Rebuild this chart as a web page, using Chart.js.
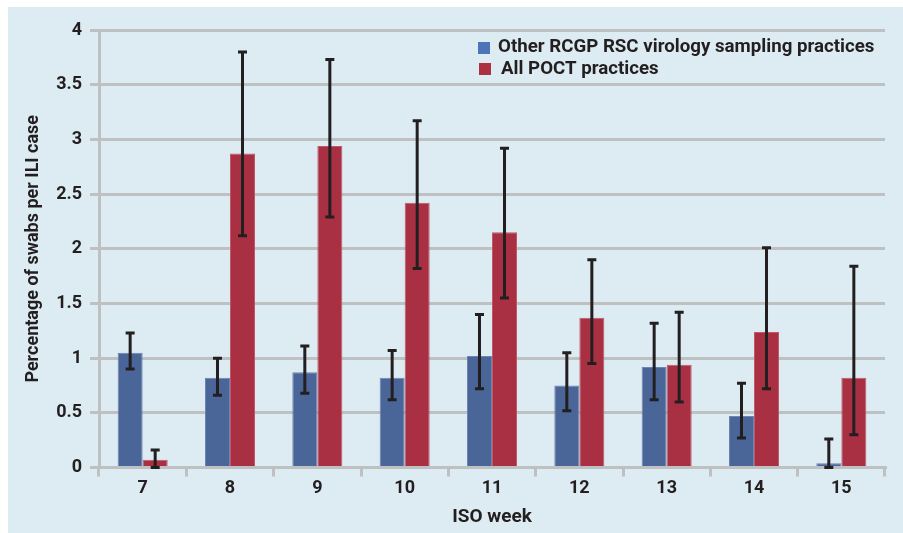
<!DOCTYPE html>
<html>
<head>
<meta charset="utf-8">
<script src="https://cdn.jsdelivr.net/npm/chart.js@4.4.1/dist/chart.umd.min.js"></script>
<style>
  html, body { margin: 0; padding: 0; background: #ffffff; }
  #wrap { width: 903px; height: 533px; position: relative; }
</style>
</head>
<body>
<div id="wrap"><canvas id="c" width="903" height="533"></canvas></div>
<script>
// ---- data ----
const weeks = ['7', '8', '9', '10', '11', '12', '13', '14', '15'];
const rcgpValues = [1.05, 0.82, 0.87, 0.82, 1.02, 0.75, 0.92, 0.47, 0.04];
const rcgpLow    = [0.90, 0.66, 0.68, 0.62, 0.72, 0.52, 0.62, 0.27, 0.00];
const rcgpHigh   = [1.23, 1.00, 1.11, 1.07, 1.40, 1.05, 1.32, 0.77, 0.26];
const poctValues = [0.07, 2.87, 2.94, 2.42, 2.15, 1.37, 0.94, 1.24, 0.82];
const poctLow    = [0.00, 2.12, 2.29, 1.82, 1.55, 0.95, 0.60, 0.72, 0.30];
const poctHigh   = [0.16, 3.80, 3.73, 3.17, 2.92, 1.90, 1.42, 2.01, 1.84];
const seriesNames = ['Other RCGP RSC virology sampling practices', 'All POCT practices'];
const yTicks = [0, 0.5, 1, 1.5, 2, 2.5, 3, 3.5, 4];
const xTitle = 'ISO week';
const yTitle = 'Percentage of swabs per ILI case';

// ---- styles ----
const FONT = 'Roboto, "Liberation Sans", sans-serif';
const TEXT = '#231f20';
const GRID = '#bfc0c2';
const PANEL = '#ddebf2';
const BLUE = '#4a6598';
const RED = '#a93043';
const LEGEND_BLUE = '#4d73b9';
const LEGEND_RED = '#ad3042';

const errorBars = [
  { low: rcgpLow, high: rcgpHigh },
  { low: poctLow, high: poctHigh }
];

const panelPlugin = {
  id: 'panel',
  beforeDraw(chart) {
    const ctx = chart.ctx;
    ctx.save();
    ctx.fillStyle = PANEL;
    ctx.fillRect(8, 7, chart.width - 8, chart.height - 7);
    ctx.restore();
  }
};

const errorPlugin = {
  id: 'errorBars',
  afterDatasetsDraw(chart) {
    const ctx = chart.ctx;
    const y = chart.scales.y;
    ctx.save();
    ctx.strokeStyle = TEXT;
    ctx.lineWidth = 3;
    ctx.lineCap = 'butt';
    chart.data.datasets.forEach((ds, di) => {
      const meta = chart.getDatasetMeta(di);
      meta.data.forEach((bar, i) => {
        const lo = y.getPixelForValue(errorBars[di].low[i]);
        const hi = y.getPixelForValue(errorBars[di].high[i]);
        const x = bar.x;
        ctx.beginPath();
        ctx.moveTo(x, lo); ctx.lineTo(x, hi);
        ctx.moveTo(x - 4.5, hi); ctx.lineTo(x + 4.5, hi);
        ctx.moveTo(x - 4.5, lo); ctx.lineTo(x + 4.5, lo);
        ctx.stroke();
      });
    });
    ctx.restore();
  }
};

const legendPlugin = {
  id: 'customLegend',
  afterDraw(chart) {
    const ctx = chart.ctx;
    ctx.save();
    ctx.font = 'bold 18.7px ' + FONT;
    ctx.textBaseline = 'middle';
    ctx.fillStyle = LEGEND_BLUE;
    ctx.fillRect(478, 42, 12, 12);
    ctx.fillStyle = LEGEND_RED;
    ctx.fillRect(479, 63, 12, 12);
    ctx.fillStyle = TEXT;
    ctx.fillText(seriesNames[0], 498, 47);
    ctx.fillText(seriesNames[1], 501, 69);
    ctx.restore();
  }
};

new Chart(document.getElementById('c'), {
  type: 'bar',
  data: {
    labels: weeks,
    datasets: [
      { label: seriesNames[0], data: rcgpValues, backgroundColor: BLUE, borderColor: '#6d85b0', borderWidth: 1 },
      { label: seriesNames[1], data: poctValues, backgroundColor: RED, borderColor: '#c0586a', borderWidth: 1 }
    ]
  },
  options: {
    responsive: false,
    animation: false,
    devicePixelRatio: 1,
    layout: { padding: { left: 0, top: 30, right: 18, bottom: 0 } },
    datasets: { bar: { categoryPercentage: 0.573, barPercentage: 1.0 } },
    plugins: { legend: { display: false }, tooltip: { enabled: false } },
    scales: {
      x: {
        grid: { display: true, drawOnChartArea: false, drawTicks: true, tickLength: 9, color: GRID, lineWidth: 3, offset: true },
        border: { display: true, color: GRID, width: 3 },
        ticks: { color: TEXT, font: { family: FONT, size: 18, weight: 'bold' }, padding: 1 },
        title: { display: true, text: xTitle, color: TEXT, font: { family: FONT, size: 19, weight: 'bold', lineHeight: 1 }, padding: { top: 0, bottom: 6.5 } },
        afterFit(scale) { scale.height = 65.5; }
      },
      y: {
        min: 0, max: 4,
        afterBuildTicks(scale) { scale.ticks = yTicks.map(v => ({ value: v })); },
        grid: { color: GRID, lineWidth: 3, tickLength: 9 },
        border: { display: true, color: GRID, width: 3 },
        ticks: { color: TEXT, font: { family: FONT, size: 18, weight: 'bold' }, padding: 8, callback: (v) => String(v) },
        title: { display: true, text: yTitle, color: TEXT, font: { family: FONT, size: 18, weight: 'bold', lineHeight: 1 }, padding: { top: 24, bottom: 0 } },
        afterFit(scale) { scale.width = 99; }
      }
    }
  },
  plugins: [panelPlugin, errorPlugin, legendPlugin]
});
</script>
</body>
</html>
